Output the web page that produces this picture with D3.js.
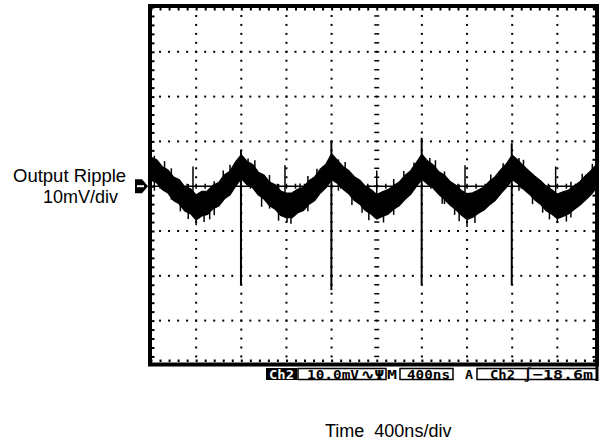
<!DOCTYPE html>
<html>
<head>
<meta charset="utf-8">
<script src="https://cdn.jsdelivr.net/npm/d3@7"></script>
<style>
body { margin: 0; background: #fff; }
svg { display: block; }
</style>
</head>
<body>
<svg id="chart" width="608" height="441"></svg>
<script>
// trace envelope, time in ns, voltage in mV
var traceTime = [0, 50, 100, 150, 200, 250, 300, 350, 400, 450, 500, 550, 600, 650, 700, 750,
    800, 850, 900, 950, 1000, 1050, 1100, 1150, 1200, 1250, 1300, 1350, 1400, 1450, 1500, 1550,
    1600, 1650, 1700, 1750, 1800, 1850, 1900, 1950, 2000, 2050, 2100, 2150, 2200, 2250, 2300, 2350,
    2400, 2450, 2500, 2550, 2600, 2650, 2700, 2750, 2800, 2850, 2900, 2950, 3000, 3050, 3100, 3150,
    3200, 3250, 3300, 3350, 3400, 3450, 3500, 3550, 3600, 3650, 3700, 3750, 3800, 3850, 3900, 3950, 4000];
var traceUpper = [6.4, 5.9, 4.3, 3.6, 2.0, 1.4, -0.2, -0.6, -2.0, -1.2, -1.1, 0.2, 0.8, 2.5, 3.3, 5.4,
    7.0, 5.5, 4.8, 3.1, 2.5, 0.9, 0.3, -1.1, -1.6, -1.5, -0.7, -0.3, 1.2, 2.0, 3.8, 4.9,
    7.2, 5.8, 4.4, 3.5, 2.1, 1.3, -0.1, -0.8, -1.9, -1.3, -0.8, 0.1, 0.9, 2.4, 3.4, 5.2,
    7.1, 5.6, 4.7, 3.2, 2.4, 1.0, 0.2, -1.0, -1.7, -1.5, -0.9, -0.2, 1.1, 2.1, 3.7, 5.0,
    6.9, 5.8, 4.5, 3.3, 2.2, 1.2, 0.0, -0.8, -1.8, -1.3, -0.9, 0.0, 1.0, 2.3, 3.5, 4.9, 6.6];
var traceLower = [1.4, 0.8, -0.7, -1.5, -3.2, -3.9, -5.5, -6.1, -7.5, -6.6, -6.3, -5.0, -4.4, -2.8, -1.9, 0.1,
    1.7, 0.4, -0.3, -1.9, -2.8, -4.3, -5.1, -6.5, -7.0, -7.0, -5.9, -5.4, -4.0, -3.2, -1.5, -0.3,
    1.5, 0.7, -0.6, -1.6, -3.1, -4.0, -5.4, -6.2, -7.3, -6.7, -6.2, -5.1, -4.3, -2.9, -1.8, 0.0,
    1.6, 0.5, -0.4, -1.8, -2.9, -4.2, -5.2, -6.4, -7.4, -6.9, -6.0, -5.3, -4.1, -3.1, -1.6, -0.2,
    1.5, 0.6, -0.6, -1.7, -3.0, -4.0, -5.4, -6.2, -7.2, -6.7, -6.1, -5.1, -4.2, -3.0, -1.8, -0.2, 1.4];

// switching spikes and noise hairs: time ns, low mV, high mV
var spikeTime = [797, 1598, 2398, 3196, 372, 1187, 2000, 2782, 3585, 400, 1205, 2800, 3600,
    30, 860, 1660, 2470, 3260, 330, 1130, 1930, 2730, 3530, 560, 1390, 2150, 3720, 1050, 2600,
    120, 180, 260, 470, 520, 640, 700, 920, 980, 1240, 1320, 1470, 1720, 1780, 1870,
    2060, 2240, 2330, 2520, 2580, 2690, 2870, 3010, 3120, 3300, 3380, 3470, 3680, 3820, 3910];
var spikeLow = [-22.1, -23.2, -22.1, -22.1, -3.0, -2.5, -3.0, -2.8, -2.6, -8.7, -8.0, -9.1, -8.2,
    -1.0, 0.0, -1.0, 0.0, -1.0, -7.3, -7.7, -7.6, -7.8, -7.4, -6.5, -5.6, -6.4, -7.0, -5.0, -4.0,
    2.0, -3.0, -5.6, -8.0, -7.4, -1.0, 0.0, 1.0, -4.6, -8.4, -3.0, 0.0, 0.0, -4.2, -5.9,
    -8.1, 0.0, 2.0, 1.0, -3.9, -6.4, -8.2, -1.0, 2.0, 1.0, -4.0, -5.9, -7.9, -1.0, 1.0];
var spikeHigh = [8.0, 10.1, 10.8, 9.6, 4.4, 4.7, 3.5, 4.7, 4.4, -4.0, -4.0, -4.0, -4.0,
    6.8, 6.2, 6.0, 6.3, 6.3, 0.5, 0.5, 0.2, 0.4, 0.3, 1.1, 2.3, 1.6, 1.0, 2.5, 3.3,
    5.6, 4.0, 0.0, -3.0, -2.0, 3.5, 4.8, 5.8, 0.0, -4.0, 0.6, 3.9, 5.4, 0.0, -2.0,
    -5.0, 3.4, 5.3, 5.8, 0.0, -3.0, -5.0, 2.6, 5.1, 5.9, -1.0, -2.0, -5.0, 2.8, 5.0];

var yLabelLines = ['Output Ripple', '10mV/div'];
var xLabelText = 'Time  400ns/div';
var statusChannel = 'Ch2';
var statusScale = '10.0mV';
var statusTime = '400ns';
var statusTrigSource = 'Ch2';
var statusTrigLevel = '\u2212' + '18.6m';

var svg = d3.select('#chart');

// 10 divisions of 400ns, 8 divisions of 10mV
var x = d3.scaleLinear().domain([0, 4000]).range([151, 602.5]);
var y = d3.scaleLinear().domain([-40, 40]).range([365.4, 7]);
var frameRight = 597;

svg.append('defs').append('clipPath').attr('id', 'screen')
    .append('rect')
    .attr('x', 152).attr('y', 8)
    .attr('width', frameRight - 2 - 152).attr('height', 362 - 8);

var screen = svg.append('g').attr('clip-path', 'url(#screen)');

// dotted graticule, one dot per fifth of a division
var minorT = d3.range(0, 4001, 80);
var minorV = d3.range(-40, 40.1, 2);
var divT = d3.range(400, 4000, 400).filter(function (d) { return d !== 2000; });
var divV = d3.range(-30, 31, 10).filter(function (d) { return d !== 0; });

divT.forEach(function (t) {
    screen.selectAll(null).data(minorV).enter().append('rect')
        .attr('x', x(t) - 1).attr('y', function (v) { return y(v) - 1; })
        .attr('width', 2).attr('height', 2).attr('fill', '#000');
});
divV.forEach(function (v) {
    screen.selectAll(null).data(minorT).enter().append('rect')
        .attr('x', function (t) { return x(t) - 1; }).attr('y', y(v) - 1)
        .attr('width', 2).attr('height', 2).attr('fill', '#000');
});

// centre cross with ticks
screen.append('line')
    .attr('x1', x(0)).attr('x2', x(4000))
    .attr('y1', y(0)).attr('y2', y(0))
    .attr('stroke', '#000').attr('stroke-width', 1.5);
screen.selectAll(null).data(minorT).enter().append('line')
    .attr('x1', function (t) { return x(t); }).attr('x2', function (t) { return x(t); })
    .attr('y1', y(0) - 2.5).attr('y2', y(0) + 2.5)
    .attr('stroke', '#000').attr('stroke-width', 1.5);
screen.selectAll(null).data(minorV).enter().append('line')
    .attr('x1', x(2000) - 2.5).attr('x2', x(2000) + 2.5)
    .attr('y1', function (v) { return y(v); }).attr('y2', function (v) { return y(v); })
    .attr('stroke', '#000').attr('stroke-width', 1.5);

// the ripple band
var band = d3.area()
    .x(function (d, i) { return x(traceTime[i]); })
    .y0(function (d, i) { return y(traceLower[i]); })
    .y1(function (d, i) { return y(traceUpper[i]); });
screen.append('path')
    .datum(traceTime)
    .attr('d', band)
    .attr('fill', '#000')
    .attr('stroke', '#000')
    .attr('stroke-width', 1.5)
    .attr('stroke-linejoin', 'miter');

screen.selectAll(null).data(spikeTime).enter().append('line')
    .attr('x1', function (t) { return x(t); }).attr('x2', function (t) { return x(t); })
    .attr('y1', function (t, i) { return y(spikeLow[i]); })
    .attr('y2', function (t, i) { return y(spikeHigh[i]); })
    .attr('stroke', '#000')
    .attr('stroke-width', function (t, i) { return i < 4 ? 2 : 1.5; });

// frame ticks pointing inwards
function emptyAxis(axis, values, size) {
    return axis.tickValues(values).tickSize(size).tickSizeOuter(0).tickFormat('');
}
var axes = [
    [d3.axisBottom(x), minorT, 3.5, 'translate(0,7)'],
    [d3.axisTop(x), minorT, 3.5, 'translate(0,363)'],
    [d3.axisRight(y), minorV, 3.5, 'translate(151,0)'],
    [d3.axisLeft(y), minorV, 3.5, 'translate(' + (frameRight - 1) + ',0)']
];
axes.forEach(function (a) {
    var g = screen.append('g')
        .attr('transform', a[3])
        .call(emptyAxis(a[0], a[1], a[2]));
    g.select('.domain').remove();
    g.selectAll('line').attr('stroke-width', 2);
});

// frame
svg.append('rect')
    .attr('x', 150).attr('y', 6)
    .attr('width', frameRight - 150).attr('height', 358.5)
    .attr('fill', 'none').attr('stroke', '#000').attr('stroke-width', 4);
svg.append('line')
    .attr('x1', frameRight).attr('x2', frameRight)
    .attr('y1', 364).attr('y2', 381)
    .attr('stroke', '#000').attr('stroke-width', 3);

// ground marker of the channel
var gy = y(0);
svg.append('path')
    .attr('d', 'M135,' + (gy - 7) + 'H142L148,' + gy + 'L142,' + (gy + 7) + 'H135Z')
    .attr('fill', '#000');
svg.append('line')
    .attr('x1', 137).attr('x2', 144).attr('y1', gy).attr('y2', gy)
    .attr('stroke', '#fff').attr('stroke-width', 2);

// status line under the screen
var mono = '"DejaVu Sans Mono", monospace';
function statusText(txt, px, len, fill) {
    svg.append('text')
        .attr('x', px).attr('y', 378.5)
        .attr('font-family', mono).attr('font-weight', 'bold').attr('font-size', 13)
        .attr('textLength', len).attr('lengthAdjust', 'spacingAndGlyphs')
        .attr('fill', fill || '#000')
        .text(txt);
}
function statusBox(px, w) {
    svg.append('rect')
        .attr('x', px).attr('y', 368.5).attr('width', w).attr('height', 11)
        .attr('fill', 'none').attr('stroke', '#000').attr('stroke-width', 1.5);
}
svg.append('rect').attr('x', 266).attr('y', 368).attr('width', 31).attr('height', 12).attr('fill', '#000');
statusText(statusChannel, 269, 25, '#fff');
statusBox(298, 88);
statusText(statusScale, 307, 52);
statusText('\u223F\u03A8', 361, 23);
statusText('M', 387, 10);
statusBox(400, 53);
statusText(statusTime, 407, 43);
statusText('A', 465, 8);
statusBox(477, frameRight - 477);
statusText(statusTrigSource, 490, 25);
statusText('\u222B' + statusTrigLevel, 523, 70);

// outer labels
var sans = '"Liberation Sans", Arial, sans-serif';
svg.append('text')
    .attr('x', 13).attr('y', 182)
    .attr('font-family', sans).attr('font-size', 18.5)
    .text(yLabelLines[0]);
svg.append('text')
    .attr('x', 43).attr('y', 202.5)
    .attr('font-family', sans).attr('font-size', 18)
    .text(yLabelLines[1]);
svg.append('text')
    .attr('x', 325).attr('y', 436.5)
    .attr('font-family', sans).attr('font-size', 18)
    .attr('xml:space', 'preserve')
    .style('white-space', 'pre')
    .text(xLabelText);
</script>
</body>
</html>
